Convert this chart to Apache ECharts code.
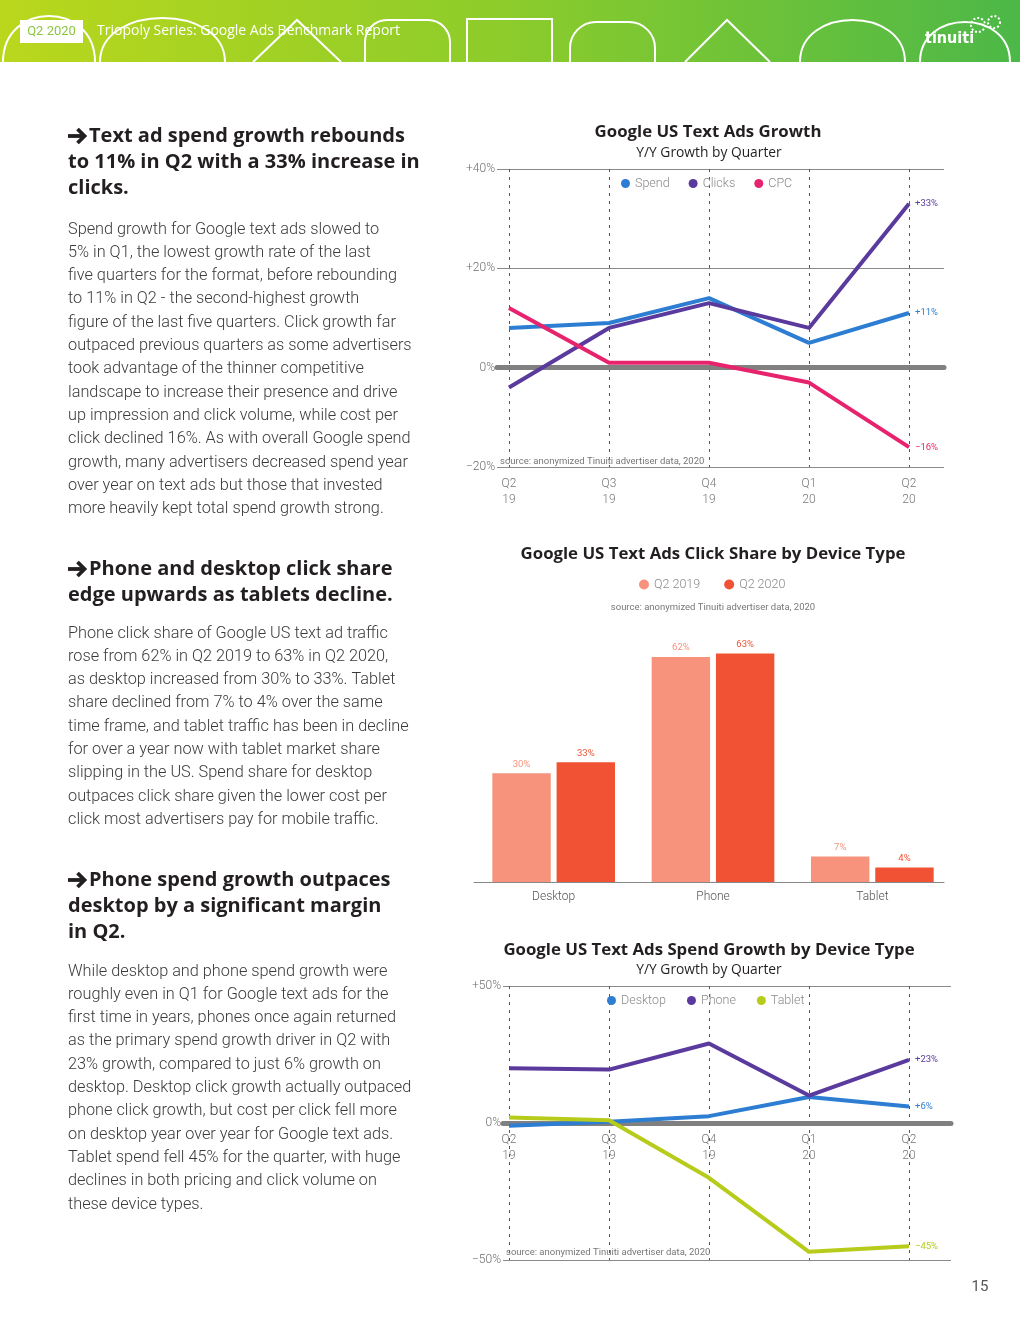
<!DOCTYPE html>
<html><head><meta charset="utf-8">
<script src="https://cdn.jsdelivr.net/npm/echarts@6/dist/echarts.min.js"></script>
<style>html,body{margin:0;padding:0;background:#fff}#c{width:1020px;height:1320px}</style>
</head><body><div id="c"></div>
<script>
// ---------- DATA ----------
const quarters = ['Q2\n19', 'Q3\n19', 'Q4\n19', 'Q1\n20', 'Q2\n20'];
const spend = [8, 9, 14, 5, 11];
const clicks = [-4, 8, 13, 8, 33];
const cpc = [12, 1, 1, -3, -16];
const devices = ['Desktop', 'Phone', 'Tablet'];
const share2019 = [30, 62, 7];
const share2020 = [33, 63, 4];
const desktopGrowth = [-1, 0.5, 2.5, 9.5, 6];
const phoneGrowth = [20, 19.5, 29, 10, 23];
const tabletGrowth = [2, 1, -20, -47, -45];

const para1 = [
 'Spend growth for Google text ads slowed to',
 '5% in Q1, the lowest growth rate of the last',
 'five quarters for the format, before rebounding',
 'to 11% in Q2 - the second-highest growth',
 'figure of the last five quarters. Click growth far',
 'outpaced previous quarters as some advertisers',
 'took advantage of the thinner competitive',
 'landscape to increase their presence and drive',
 'up impression and click volume, while cost per',
 'click declined 16%. As with overall Google spend',
 'growth, many advertisers decreased spend year',
 'over year on text ads but those that invested',
 'more heavily kept total spend growth strong.'];
const para2 = [
 'Phone click share of Google US text ad traffic',
 'rose from 62% in Q2 2019 to 63% in Q2 2020,',
 'as desktop increased from 30% to 33%. Tablet',
 'share declined from 7% to 4% over the same',
 'time frame, and tablet traffic has been in decline',
 'for over a year now with tablet market share',
 'slipping in the US. Spend share for desktop',
 'outpaces click share given the lower cost per',
 'click most advertisers pay for mobile traffic.'];
const para3 = [
 'While desktop and phone spend growth were',
 'roughly even in Q1 for Google text ads for the',
 'first time in years, phones once again returned',
 'as the primary spend growth driver in Q2 with',
 '23% growth, compared to just 6% growth on',
 'desktop. Desktop click growth actually outpaced',
 'phone click growth, but cost per click fell more',
 'on desktop year over year for Google text ads.',
 'Tablet spend fell 45% for the quarter, with huge',
 'declines in both pricing and click volume on',
 'these device types.'];
const head1 = ['Text ad spend growth rebounds', 'to 11% in Q2 with a 33% increase in', 'clicks.'];
const head2 = ['Phone and desktop click share', 'edge upwards as tablets decline.'];
const head3 = ['Phone spend growth outpaces', 'desktop by a significant margin', 'in Q2.'];

// ---------- STYLE ----------
const FH = "'Open Sans', Lato, sans-serif";
const FB = "Roboto, 'Open Sans', sans-serif";
const BLUE = '#2d7dd2', PURPLE = '#5b3a9e', PINK = '#e8236d', LIME = '#b6cb1a';
const SAL = '#f7937d', RED = '#f15233';
const GRID = '#8a8a8a', ZERO = '#808080', TXT = '#777';

const pct = v => v > 0 ? '+' + v + '%' : (v < 0 ? '\u2212' + (-v) + '%' : '0%');

function txt(x, y, text, o) {
  o = o || {};
  const st = {
    x: x, y: y, text: text, fill: o.fill || '#333',
    fontSize: o.size || 12, fontFamily: o.family || FB, fontWeight: o.weight || 'normal',
    align: o.align || 'left', textAlign: o.align || 'left',
    verticalAlign: o.va || 'middle', textVerticalAlign: o.va || 'middle'
  };
  if (o.lh) st.lineHeight = o.lh;
  return { type: 'text', z: 10, style: st };
}
const W = { stroke: '#fff', lineWidth: 2, fill: null };
function arrow(y) {
  return { type: 'group', children: [
    { type: 'polyline', shape: { points: [[68, y], [84, y]] }, style: { stroke: '#231f20', lineWidth: 3.8, fill: null } },
    { type: 'polyline', shape: { points: [[77.5, y - 7], [84.5, y], [77.5, y + 7]] }, style: { stroke: '#231f20', lineWidth: 3.8, fill: null } }
  ]};
}
const HS = 20;
function heading(y0, lines) {
  const els = [arrow(y0)];
  els.push(txt(89, y0, lines[0], { size: HS, family: FH, weight: 'bold', fill: '#231f20' }));
  if (lines.length > 1) els.push(txt(68, y0 + 13, lines.slice(1).join('\n'), { size: HS, family: FH, weight: 'bold', fill: '#231f20', va: 'top', lh: 26 }));
  return els;
}
function para(y0, lines) {
  return txt(68, y0 - 11.65, lines.join('\n'), { size: 16.3, family: FB, weight: 300, fill: '#3a3a3a', va: 'top', lh: 23.3 });
}
function archEl(x0, x1, top) {
  const c = 62 - (62 - top) * 4 / 3;
  return { type: 'bezierCurve', shape: { x1: x0, y1: 62, x2: x1, y2: 62, cpx1: x0, cpy1: c, cpx2: x1, cpy2: c }, style: W };
}
function roundArch(x0, x1, top, r) {
  return { type: 'group', children: [
    { type: 'line', shape: { x1: x0, y1: 62, x2: x0, y2: top + r }, style: W },
    { type: 'line', shape: { x1: x1, y1: 62, x2: x1, y2: top + r }, style: W },
    { type: 'line', shape: { x1: x0 + r, y1: top, x2: x1 - r, y2: top }, style: W },
    { type: 'arc', shape: { cx: x0 + r, cy: top + r, r: r, startAngle: Math.PI, endAngle: Math.PI * 1.5 }, style: W },
    { type: 'arc', shape: { cx: x1 - r, cy: top + r, r: r, startAngle: Math.PI * 1.5, endAngle: Math.PI * 2 }, style: W }
  ]};
}
const TS = 16.8, SS = 13.8;
const graphics = [
  { type: 'rect', shape: { x: 0, y: 0, width: 1020, height: 62 }, style: { fill: new echarts.graphic.LinearGradient(0, 0, 1, 0, [{ offset: 0, color: '#bad71c' }, { offset: 0.5, color: '#8ccc2b' }, { offset: 1, color: '#4cb848' }]) } },
  archEl(3, 95, 16), archEl(100, 225, 18),
  { type: 'polyline', shape: { points: [[253, 62], [297, 20], [341, 62]] }, style: W },
  roundArch(365, 450, 20, 22),
  { type: 'polyline', shape: { points: [[467, 62], [467, 19], [552, 19], [552, 62]] }, style: W },
  roundArch(570, 655, 22, 26),
  { type: 'polyline', shape: { points: [[685, 62], [727, 20], [770, 62]] }, style: W },
  archEl(800, 905, 20), archEl(920, 1010, 22),
  { type: 'rect', shape: { x: 20, y: 20, width: 63, height: 23 }, style: { fill: '#fff' } },
  txt(51.5, 31.5, 'Q2 2020', { fill: '#8cc63f', size: 13, align: 'center' }),
  txt(97, 31.5, 'Triopoly Series: Google Ads Benchmark Report', { fill: '#fff', size: 14, family: FH }),
  txt(925, 39, 'tinuiti', { fill: '#fff', size: 16, family: "'Liberation Sans Narrow', 'DejaVu Sans Condensed', sans-serif", weight: 'bold' }),
  { type: 'circle', shape: { cx: 978, cy: 25, r: 7 }, style: { stroke: '#fff', lineWidth: 2, fill: null, lineDash: [2, 2] } },
  { type: 'circle', shape: { cx: 994, cy: 22, r: 6 }, style: { stroke: '#fff', lineWidth: 2, fill: null, lineDash: [2, 2] } },
  ...heading(136, head1), para(229.5, para1),
  ...heading(569, head2), para(633.5, para2),
  ...heading(880, head3), para(971.5, para3),
  txt(708, 132, 'Google US Text Ads Growth', { size: TS, family: FH, weight: 'bold', fill: '#231f20', align: 'center' }),
  txt(709, 153, 'Y/Y Growth by Quarter', { size: SS, family: FH, fill: '#231f20', align: 'center' }),
  txt(500, 462, 'source: anonymized Tinuiti advertiser data, 2020', { size: 9.5, fill: TXT }),
  txt(713, 554, 'Google US Text Ads Click Share by Device Type', { size: TS, family: FH, weight: 'bold', fill: '#231f20', align: 'center' }),
  txt(713, 608, 'source: anonymized Tinuiti advertiser data, 2020', { size: 9.5, fill: TXT, align: 'center' }),
  txt(709, 950, 'Google US Text Ads Spend Growth by Device Type', { size: TS, family: FH, weight: 'bold', fill: '#231f20', align: 'center' }),
  txt(709, 970, 'Y/Y Growth by Quarter', { size: SS, family: FH, fill: '#231f20', align: 'center' }),
  txt(506, 1253, 'source: anonymized Tinuiti advertiser data, 2020', { size: 9.5, fill: TXT }),
  txt(980, 1287, '15', { size: 15, fill: '#555', align: 'center' })
];

// ---------- AXES ----------
const yLab = { color: '#6e6e6e', fontSize: 12, fontFamily: FB, fontWeight: 300, margin: 2, formatter: pct };
const catLab = { color: TXT, fontSize: 12, fontFamily: FB, fontWeight: 300, lineHeight: 16 };
const dashed = { show: true, lineStyle: { color: '#555', width: 1, type: [3, 5] } };
function bgX(g) {
  return { type: 'value', min: 0, max: 1, gridIndex: g, axisLabel: { show: false }, axisTick: { show: false }, splitLine: { show: false },
    axisLine: { show: true, onZero: true, lineStyle: { color: ZERO, width: 5 } } };
}
function lineSeries(name, data, color, xi, yi) {
  return { name: name, type: 'line', xAxisIndex: xi, yAxisIndex: yi, data: data, symbol: 'none', z: 3,
    itemStyle: { color: color }, lineStyle: { color: color, width: 4 },
    endLabel: { show: true, distance: 6, color: color, fontSize: 9.5, fontFamily: FB, formatter: p => pct(p.value) } };
}
const G3H = 274; // chart 3 plot height; zero sits halfway

const option = {
  animation: false,
  graphic: { elements: graphics },
  grid: [
    { left: 497, right: 76, top: 169, height: 298 },
    { left: 509, width: 400, top: 169, height: 298 },
    { left: 474, width: 478, top: 628, height: 254 },
    { left: 474, width: 470, top: 628, height: 254 },
    { left: 503, right: 69, top: 986, height: G3H },
    { left: 509, width: 400, top: 986, height: G3H }
  ],
  xAxis: [
    bgX(0),
    { type: 'category', gridIndex: 1, data: quarters, boundaryGap: false, axisLine: { show: false, onZero: false }, axisTick: { show: false },
      axisLabel: Object.assign({ margin: 9 }, catLab), splitLine: dashed },
    { type: 'category', gridIndex: 2, data: devices, axisLine: { show: false }, axisTick: { show: false },
      axisLabel: { color: '#555', fontSize: 12, fontFamily: FB, fontWeight: 300, margin: 9 } },
    { type: 'value', gridIndex: 3, min: 0, max: 1, axisLabel: { show: false }, axisTick: { show: false }, splitLine: { show: false },
      axisLine: { show: true, lineStyle: { color: '#888', width: 1 } } },
    bgX(4),
    { type: 'category', gridIndex: 5, data: quarters, boundaryGap: false, offset: -G3H / 2,
      axisLine: { show: false, onZero: false }, axisTick: { show: false },
      axisLabel: Object.assign({ margin: 9 }, catLab), splitLine: dashed }
  ],
  yAxis: [
    { type: 'value', gridIndex: 0, min: -20, max: 40, interval: 20, axisLine: { show: false }, axisTick: { show: false }, axisLabel: yLab, splitLine: { lineStyle: { color: GRID, width: 1 } } },
    { type: 'value', gridIndex: 1, min: -20, max: 40, interval: 20, show: false },
    { type: 'value', gridIndex: 2, min: 0, max: 70, show: false },
    { type: 'value', gridIndex: 3, min: 0, max: 70, show: false },
    { type: 'value', gridIndex: 4, min: -50, max: 50, interval: 50, axisLine: { show: false }, axisTick: { show: false }, axisLabel: yLab, splitLine: { lineStyle: { color: GRID, width: 1 } } },
    { type: 'value', gridIndex: 5, min: -50, max: 50, interval: 50, show: false }
  ],
  legend: [
    { data: ['Spend', 'Clicks', 'CPC'], left: 621, top: 177, padding: 0, icon: 'circle', itemWidth: 9, itemHeight: 9, itemGap: 19,
      textStyle: { color: '#8a8a8a', fontSize: 12.5, fontFamily: FB, fontWeight: 300 } },
    { data: ['Q2 2019', 'Q2 2020'], left: 639, top: 578, padding: 0, icon: 'circle', itemWidth: 10, itemHeight: 10, itemGap: 24,
      textStyle: { color: '#8a8a8a', fontSize: 12.5, fontFamily: FB, fontWeight: 300 } },
    { data: ['Desktop', 'Phone', 'Tablet'], left: 607, top: 994, padding: 0, icon: 'circle', itemWidth: 9, itemHeight: 9, itemGap: 21,
      textStyle: { color: '#8a8a8a', fontSize: 12.5, fontFamily: FB, fontWeight: 300 } }
  ],
  series: [
    lineSeries('Spend', spend, BLUE, 1, 1),
    lineSeries('Clicks', clicks, PURPLE, 1, 1),
    lineSeries('CPC', cpc, PINK, 1, 1),
    { name: 'Q2 2019', type: 'bar', xAxisIndex: 2, yAxisIndex: 2, data: share2019, barCategoryGap: '23%', barGap: '10%',
      itemStyle: { color: SAL }, label: { show: true, position: 'top', distance: 4, color: SAL, fontSize: 9.5, fontFamily: FB, formatter: p => p.value + '%' } },
    { name: 'Q2 2020', type: 'bar', xAxisIndex: 2, yAxisIndex: 2, data: share2020, barCategoryGap: '23%', barGap: '10%',
      itemStyle: { color: RED }, label: { show: true, position: 'top', distance: 4, color: RED, fontSize: 9.5, fontFamily: FB, formatter: p => p.value + '%' } },
    lineSeries('Desktop', desktopGrowth, BLUE, 5, 5),
    lineSeries('Phone', phoneGrowth, PURPLE, 5, 5),
    lineSeries('Tablet', tabletGrowth, LIME, 5, 5)
  ]
};
const chart = echarts.init(document.getElementById('c'), null, { renderer: 'canvas' });
chart.setOption(option);
</script></body></html>
